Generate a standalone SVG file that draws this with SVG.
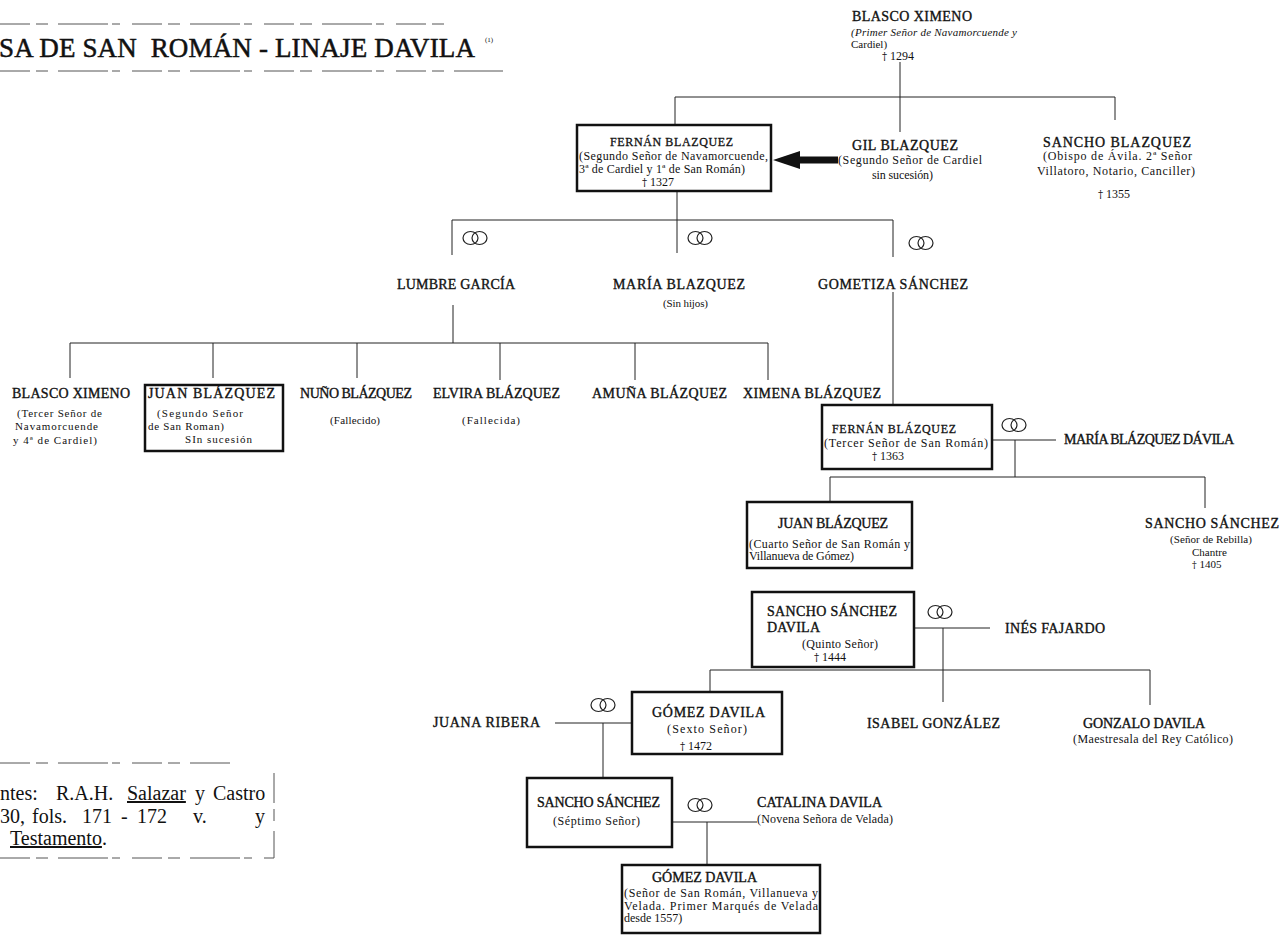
<svg xmlns="http://www.w3.org/2000/svg" width="1286" height="936" viewBox="0 0 1286 936">
<style>
text{font-family:"Liberation Serif","Times New Roman",serif;fill:#111}
.n{font-size:14px;stroke:#111;stroke-width:0.35}
.m{font-size:12px;stroke:#111;stroke-width:0.3}
.s{font-size:12px}
.xs{font-size:11px}
.i{font-style:italic}
.f{font-size:20px}
.dg{font-family:"DejaVu Serif",serif;font-size:0.85em}
.box{fill:none;stroke:#111;stroke-width:2.5}
.c{stroke:#222;stroke-width:1;fill:none}
.d{stroke:#555;stroke-width:1;fill:none;stroke-dasharray:30 6 12 10 50 4 8 12}
.ring ellipse{fill:none;stroke:#222;stroke-width:1.2}
</style>
<defs>
<g id="ring" class="ring"><ellipse cx="-4.5" cy="0" rx="7.5" ry="6.5"/><ellipse cx="4.5" cy="0" rx="7.5" ry="6.5"/></g>
</defs>
<rect width="1286" height="936" fill="#fff"/>

<g id="title">
<line class="d" x1="0" y1="24" x2="447" y2="24"/>
<line class="d" x1="0" y1="71" x2="503" y2="71"/>
<text x="-1" y="57" font-family="Liberation Serif, Times New Roman, serif" font-size="27" stroke="#111" stroke-width="0.5" textLength="476" xml:space="preserve">SA DE SAN  ROMÁN - LINAJE DAVILA</text>
<text x="485" y="42" font-size="7">(1)</text>
</g>

<g id="connectors">
<line class="c" x1="900" y1="62" x2="900" y2="132"/>
<line class="c" x1="675" y1="97" x2="1115" y2="97"/>
<line class="c" x1="675" y1="97" x2="675" y2="125"/>
<line class="c" x1="1115" y1="97" x2="1115" y2="120"/>
<line class="c" x1="677" y1="191" x2="677" y2="253"/>
<line class="c" x1="452" y1="220" x2="893" y2="220"/>
<line class="c" x1="452" y1="220" x2="452" y2="255"/>
<line class="c" x1="893" y1="220" x2="893" y2="257"/>
<line class="c" x1="453" y1="305" x2="453" y2="343"/>
<line class="c" x1="70" y1="343" x2="768" y2="343"/>
<line class="c" x1="70" y1="343" x2="70" y2="378"/>
<line class="c" x1="213" y1="343" x2="213" y2="378"/>
<line class="c" x1="357" y1="343" x2="357" y2="378"/>
<line class="c" x1="500" y1="343" x2="500" y2="380"/>
<line class="c" x1="635" y1="343" x2="635" y2="380"/>
<line class="c" x1="768" y1="343" x2="768" y2="380"/>
<line class="c" x1="893" y1="292" x2="893" y2="405"/>
<line class="c" x1="992" y1="440" x2="1056" y2="440"/>
<line class="c" x1="1015" y1="440" x2="1015" y2="477"/>
<line class="c" x1="830" y1="477" x2="1205" y2="477"/>
<line class="c" x1="830" y1="477" x2="830" y2="502"/>
<line class="c" x1="1205" y1="477" x2="1205" y2="508"/>
<line class="c" x1="914" y1="628" x2="990" y2="628"/>
<line class="c" x1="943" y1="628" x2="943" y2="702"/>
<line class="c" x1="710" y1="670" x2="1150" y2="670"/>
<line class="c" x1="710" y1="670" x2="710" y2="692"/>
<line class="c" x1="1150" y1="670" x2="1150" y2="705"/>
<line class="c" x1="555" y1="723" x2="632" y2="723"/>
<line class="c" x1="603" y1="723" x2="603" y2="778"/>
<line class="c" x1="672" y1="822" x2="757" y2="822"/>
<line class="c" x1="707" y1="822" x2="707" y2="865"/>
<polygon points="773,160 800,151 800,156.5 838,156.5 838,163.5 800,163.5 800,169" fill="#111"/>
<use href="#ring" x="475" y="238"/>
<use href="#ring" x="700" y="238"/>
<use href="#ring" x="921" y="243"/>
<use href="#ring" x="1014" y="425"/>
<use href="#ring" x="940" y="612"/>
<use href="#ring" x="603" y="705"/>
<use href="#ring" x="700" y="805"/>
</g>

<g id="blasco-ximeno-1">
<text class="n" x="852" y="21" textLength="120">BLASCO XIMENO</text>
<text class="xs i" x="851" y="36" textLength="166">(Primer Señor de Navamorcuende y</text>
<text class="xs" x="851" y="48">Cardiel)</text>
<text class="s" x="882" y="60"><tspan class="dg">†</tspan> 1294</text>
</g>

<g id="fernan-blazquez-1">
<rect class="box" x="577" y="125" width="194" height="66"/>
<text class="m" x="610" y="146" textLength="123">FERNÁN BLAZQUEZ</text>
<text class="s" x="579" y="160" textLength="189">(Segundo Señor de Navamorcuende,</text>
<text class="s" x="579" y="173" textLength="166">3ª de Cardiel y 1ª de San Román)</text>
<text class="s" x="642" y="186"><tspan class="dg">†</tspan> 1327</text>
</g>

<g id="gil-blazquez">
<text class="n" x="852" y="150" textLength="106">GIL BLAZQUEZ</text>
<text class="s" x="838" y="164" textLength="144">(Segundo Señor de Cardiel</text>
<text class="s" x="872" y="179" textLength="61">sin sucesión)</text>
</g>

<g id="sancho-blazquez">
<text class="n" x="1043" y="147" textLength="148">SANCHO BLAZQUEZ</text>
<text class="s" x="1043" y="160" textLength="149">(Obispo de Ávila. 2ª Señor</text>
<text class="s" x="1037" y="175" textLength="158">Villatoro, Notario, Canciller)</text>
<text class="s" x="1098" y="198"><tspan class="dg">†</tspan> 1355</text>
</g>

<g id="lumbre-garcia">
<text class="n" x="397" y="289" textLength="118">LUMBRE GARCÍA</text>
</g>
<g id="maria-blazquez">
<text class="n" x="613" y="289" textLength="132">MARÍA BLAZQUEZ</text>
<text class="xs" x="663" y="307" textLength="45">(Sin hijos)</text>
</g>
<g id="gometiza-sanchez">
<text class="n" x="818" y="289" textLength="150">GOMETIZA SÁNCHEZ</text>
</g>

<g id="blasco-ximeno-2">
<text class="n" x="12" y="398" textLength="118">BLASCO XIMENO</text>
<text class="xs" x="17" y="417" textLength="85">(Tercer Señor de</text>
<text class="xs" x="15" y="430" textLength="83">Navamorcuende</text>
<text class="xs" x="13" y="444" textLength="84">y 4ª de Cardiel)</text>
</g>
<g id="juan-blazquez-1">
<rect class="box" x="145" y="385" width="138" height="66"/>
<text class="n" x="148" y="398" textLength="127">JUAN BLÁZQUEZ</text>
<text class="xs" x="157" y="417" textLength="86">(Segundo Señor</text>
<text class="xs" x="148" y="430" textLength="76">de San Roman)</text>
<text class="xs" x="185" y="443" textLength="67">SIn sucesión</text>
</g>
<g id="nuno-blazquez">
<text class="n" x="300" y="398" textLength="112">NUÑO BLÁZQUEZ</text>
<text class="xs" x="330" y="424" textLength="50">(Fallecido)</text>
</g>
<g id="elvira-blazquez">
<text class="n" x="433" y="398" textLength="127">ELVIRA BLÁZQUEZ</text>
<text class="xs" x="462" y="424" textLength="58">(Fallecida)</text>
</g>
<g id="amuna-blazquez">
<text class="n" x="592" y="398" textLength="135">AMUÑA BLÁZQUEZ</text>
</g>
<g id="ximena-blazquez">
<text class="n" x="743" y="398" textLength="138">XIMENA BLÁZQUEZ</text>
</g>

<g id="fernan-blazquez-2">
<rect class="box" x="822" y="405" width="170" height="64"/>
<text class="m" x="832" y="433" textLength="124">FERNÁN BLÁZQUEZ</text>
<text class="s" x="824" y="447" textLength="164">(Tercer Señor de San Román)</text>
<text class="s" x="872" y="460"><tspan class="dg">†</tspan> 1363</text>
</g>
<g id="maria-blazquez-davila">
<text class="n" x="1064" y="444" textLength="170">MARÍA BLÁZQUEZ DÁVILA</text>
</g>

<g id="juan-blazquez-2">
<rect class="box" x="747" y="502" width="165" height="66"/>
<text class="n" x="778" y="528" textLength="110">JUAN BLÁZQUEZ</text>
<text class="s" x="749" y="548" textLength="161">(Cuarto Señor de San Román y</text>
<text class="s" x="749" y="560" textLength="105">Villanueva de Gómez)</text>
</g>
<g id="sancho-sanchez-rebilla">
<text class="n" x="1145" y="528" textLength="134">SANCHO SÁNCHEZ</text>
<text class="xs" x="1170" y="543" textLength="82">(Señor de Rebilla)</text>
<text class="xs" x="1192" y="556">Chantre</text>
<text class="xs" x="1192" y="568"><tspan class="dg">†</tspan> 1405</text>
</g>

<g id="sancho-sanchez-davila">
<rect class="box" x="752" y="592" width="162" height="75"/>
<text class="n" x="767" y="616" textLength="130">SANCHO SÁNCHEZ</text>
<text class="n" x="767" y="632" textLength="53">DAVILA</text>
<text class="s" x="802" y="648" textLength="76">(Quinto Señor)</text>
<text class="s" x="814" y="661"><tspan class="dg">†</tspan> 1444</text>
</g>
<g id="ines-fajardo">
<text class="n" x="1005" y="633" textLength="100">INÉS FAJARDO</text>
</g>

<g id="juana-ribera">
<text class="n" x="433" y="727" textLength="107">JUANA RIBERA</text>
</g>
<g id="gomez-davila-1">
<rect class="box" x="632" y="692" width="150" height="62"/>
<text class="n" x="652" y="717" textLength="113">GÓMEZ DAVILA</text>
<text class="s" x="667" y="733" textLength="80">(Sexto Señor)</text>
<text class="s" x="680" y="750"><tspan class="dg">†</tspan> 1472</text>
</g>
<g id="isabel-gonzalez">
<text class="n" x="867" y="728" textLength="133">ISABEL GONZÁLEZ</text>
</g>
<g id="gonzalo-davila">
<text class="n" x="1083" y="728" textLength="122">GONZALO DAVILA</text>
<text class="s" x="1073" y="743" textLength="160">(Maestresala del Rey Católico)</text>
</g>

<g id="sancho-sanchez-septimo">
<rect class="box" x="527" y="778" width="145" height="69"/>
<text class="n" x="537" y="807" textLength="123">SANCHO SÁNCHEZ</text>
<text class="s" x="553" y="825" textLength="87">(Séptimo Señor)</text>
</g>
<g id="catalina-davila">
<text class="n" x="757" y="807" textLength="125">CATALINA DAVILA</text>
<text class="s" x="757" y="823" textLength="136">(Novena Señora de Velada)</text>
</g>
<g id="gomez-davila-2">
<rect class="box" x="622" y="865" width="198" height="68"/>
<text class="n" x="652" y="882" textLength="105">GÓMEZ DAVILA</text>
<text class="s" x="624" y="897" textLength="194">(Señor de San Román, Villanueva y</text>
<text class="s" x="624" y="910" textLength="194">Velada. Primer Marqués de Velada</text>
<text class="s" x="624" y="922">desde 1557)</text>
</g>

<g id="fuentes">
<line class="d" x1="0" y1="763" x2="230" y2="763"/>
<line class="d" x1="274" y1="773" x2="274" y2="858"/>
<line class="d" x1="0" y1="858" x2="274" y2="858"/>
<text class="f" y="800"><tspan x="0">ntes:</tspan><tspan x="56">R.A.H.</tspan><tspan x="127" text-decoration="underline">Salazar</tspan><tspan x="195">y</tspan><tspan x="213">Castro</tspan></text>
<text class="f" y="823"><tspan x="0">30,</tspan><tspan x="32">fols.</tspan><tspan x="82">171</tspan><tspan x="121">-</tspan><tspan x="137">172</tspan><tspan x="193">v.</tspan><tspan x="255">y</tspan></text>
<text class="f" y="845"><tspan x="10" text-decoration="underline">Testamento</tspan>.</text>
</g>
</svg>
